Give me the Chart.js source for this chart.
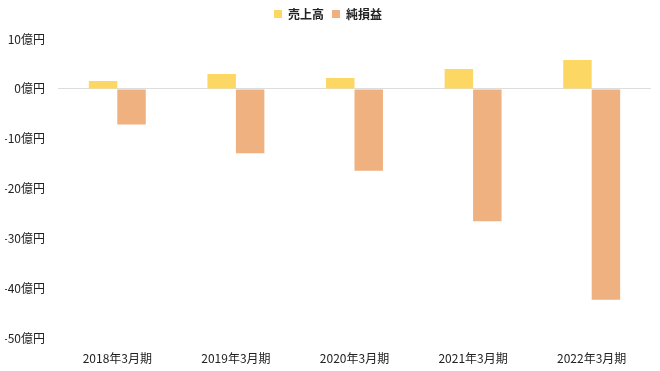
<!DOCTYPE html>
<html lang="ja">
<head>
    <meta charset="UTF-8">
    <title>売上高と純損益</title>
    <script src="https://cdn.jsdelivr.net/npm/chart.js"></script>
    <style>
        html, body { margin: 0; padding: 0; background: #fff; }
        #wrap { width: 660px; height: 371px; }
    </style>
</head>
<body>
    <div id="wrap"><canvas id="myChart"></canvas></div>
    <script>
        // データ（億円）
        const labels = ['2018年3月期', '2019年3月期', '2020年3月期', '2021年3月期', '2022年3月期'];
        const uriage = [1.6, 3.0, 2.2, 4.0, 5.8];
        const junSonEki = [-7.1, -12.9, -16.4, -26.5, -42.2];

        const fontName = '"Noto Sans CJK JP", "Noto Sans", sans-serif';

        // 凡例の下に少し余白を入れる
        const legendGap = {
            id: 'legendGap',
            beforeInit(chart) {
                const fit = chart.legend.fit;
                chart.legend.fit = function () {
                    fit.bind(chart.legend)();
                    this.height += 9;
                };
            }
        };

        const ctx = document.getElementById('myChart').getContext('2d');
        const myChart = new Chart(ctx, {
            type: 'bar',
            data: {
                labels: labels,
                datasets: [{
                    label: '売上高',
                    data: uriage,
                    backgroundColor: 'rgb(252, 215, 100)',
                    categoryPercentage: 0.48,
                    barPercentage: 1
                }, {
                    label: '純損益',
                    data: junSonEki,
                    backgroundColor: 'rgb(240, 177, 128)',
                    categoryPercentage: 0.48,
                    barPercentage: 1
                }]
            },
            plugins: [legendGap],
            options: {
                responsive: true,
                maintainAspectRatio: false,
                animation: false,
                layout: { padding: { left: 5, right: 9, top: 0, bottom: 0 } },
                plugins: {
                    tooltip: { enabled: false },
                    legend: {
                        position: 'top',
                        labels: {
                            boxWidth: 8,
                            boxHeight: 8,
                            padding: 8,
                            color: '#222',
                            font: { family: fontName, size: 12, weight: 'bold' }
                        }
                    }
                },
                scales: {
                    x: {
                        grid: { display: false },
                        border: { display: false },
                        ticks: {
                            color: '#222',
                            padding: 5,
                            font: { family: fontName, size: 12 }
                        }
                    },
                    y: {
                        min: -50,
                        max: 10,
                        border: { display: false },
                        afterFit: s => { s.width = 53; },
                        grid: {
                            drawTicks: false,
                            color: c => c.tick && c.tick.value === 0 ? '#dddddd' : 'rgba(0,0,0,0)'
                        },
                        ticks: {
                            stepSize: 10,
                            padding: 13,
                            color: '#222',
                            font: { family: fontName, size: 12 },
                            callback: v => v + '億円'
                        }
                    }
                }
            }
        });
    </script>
</body>
</html>
